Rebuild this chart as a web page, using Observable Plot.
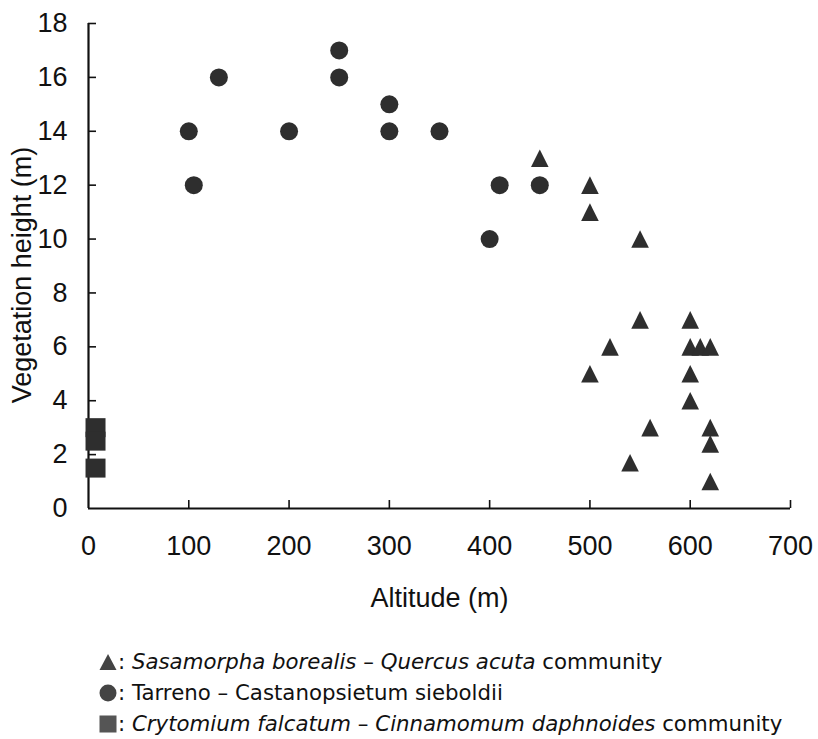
<!DOCTYPE html>
<html><head><meta charset="utf-8">
<script src="https://cdn.jsdelivr.net/npm/d3@7"></script>
<script src="https://cdn.jsdelivr.net/npm/@observablehq/plot@0.6"></script>
<style>
body{margin:0;background:#fff;}
#legend{font-family:"DejaVu Sans",sans-serif;font-size:21.3px;color:#111;margin:21px 0 0 99px;}
#legend .row{height:31px;display:flex;align-items:center;white-space:nowrap;}
#legend svg{margin-right:1px;}
</style></head><body>
<div id="chart"></div>
<div id="legend"></div>
<script>
// Tick values
const xTicks = [0, 100, 200, 300, 400, 500, 600, 700];
const yTicks = [0, 2, 4, 6, 8, 10, 12, 14, 16, 18];
// Sasamorpha borealis – Quercus acuta community (triangles)
const triAlt    = [450, 500, 500, 550, 550, 600, 520, 600, 610, 620, 500, 600, 600, 560, 620, 620, 540, 620];
const triHeight = [13, 12, 11, 10, 7, 7, 6, 6, 6, 6, 5, 5, 4, 3, 3, 2.4, 1.7, 1];
// Tarreno – Castanopsietum sieboldii (circles)
const circAlt    = [100, 105, 130, 200, 250, 250, 300, 300, 350, 410, 450, 400];
const circHeight = [14, 12, 16, 14, 17, 16, 15, 14, 14, 12, 12, 10];
// Crytomium falcatum – Cinnamomum daphnoides community (squares)
const sqAlt    = [7, 7, 7];
const sqHeight = [3, 2.5, 1.5];
// Axis titles and legend texts
const xTitle = "Altitude (m)";
const yTitle = "Vegetation height (m)";
const legendHtml = [
  "<i>Sasamorpha borealis</i> – <i>Quercus acuta</i> community",
  "Tarreno – Castanopsietum sieboldii",
  "<i>Crytomium falcatum</i> – <i>Cinnamomum daphnoides</i> community"
];

const tri = {draw(c, size){const r = Math.sqrt(size/Math.PI); c.moveTo(0,-r); c.lineTo(r, r); c.lineTo(-r, r); c.closePath();}};
const sq  = {draw(c, size){const r = Math.sqrt(size/Math.PI); c.rect(-r, -r*0.95, 2*r, 1.9*r);}};

const toRows = (xs, ys) => xs.map((x, i) => ({x, y: ys[i]}));
const markFill = "#2e2e2e";

const chart = Plot.plot({
  width: 818, height: 625,
  marginTop: 23, marginLeft: 88, marginRight: 28, marginBottom: 117,
  x: {domain: [0, 700]},
  y: {domain: [0, 18]},
  style: {fontFamily: "'Liberation Sans', Arial, sans-serif", fontSize: "27px", color: "#111", background: "#fff"},
  marks: [
    Plot.axisX(xTicks.slice(1), {tickSize: -8, strokeWidth: 1.6, tickFormat: () => "", label: null}),
    Plot.axisX(xTicks, {tickSize: 0, tickPadding: 27, label: null}),
    Plot.axisY(yTicks.slice(1), {tickSize: -8, strokeWidth: 1.6, tickFormat: () => "", label: null}),
    Plot.axisY(yTicks, {tickSize: 0, tickPadding: 21, label: null}),
    Plot.text([xTitle], {frameAnchor: "bottom", textAnchor: "middle", lineAnchor: "middle", dy: 90, fill: "#111"}),
    Plot.text([yTitle], {frameAnchor: "left", textAnchor: "middle", lineAnchor: "middle", rotate: -90, dx: -66, dy: 9, fill: "#111"}),
    Plot.ruleX([0], {y1: 0, y2: 18, strokeWidth: 2.2}),
    Plot.ruleY([0], {x1: 0, x2: 700, strokeWidth: 2.2}),
    Plot.dot(toRows(sqAlt, sqHeight), {x: "x", y: "y", symbol: sq, r: 10, fill: markFill, stroke: "none"}),
    Plot.dot(toRows(circAlt, circHeight), {x: "x", y: "y", symbol: "circle", r: 9, fill: markFill, stroke: "none"}),
    Plot.dot(toRows(triAlt, triHeight), {x: "x", y: "y", symbol: tri, r: 8.8, fill: markFill, stroke: "none"})
  ]
});
document.getElementById("chart").appendChild(chart);

const shapes = [
  '<svg width="18" height="18" viewBox="0 0 18 18"><path d="M9,1L17.5,17H0.5Z" fill="#444"/></svg>',
  '<svg width="18" height="18" viewBox="0 0 18 18"><circle cx="9" cy="9" r="8.5" fill="#444"/></svg>',
  '<svg width="18" height="18" viewBox="0 0 18 18"><rect x="0.5" y="0.5" width="17" height="17" fill="#555"/></svg>'
];
const leg = document.getElementById("legend");
legendHtml.forEach((t, i) => {
  const d = document.createElement("div");
  d.className = "row";
  d.innerHTML = shapes[i] + "<span>: " + t + "</span>";
  leg.appendChild(d);
});
</script>
</body></html>
